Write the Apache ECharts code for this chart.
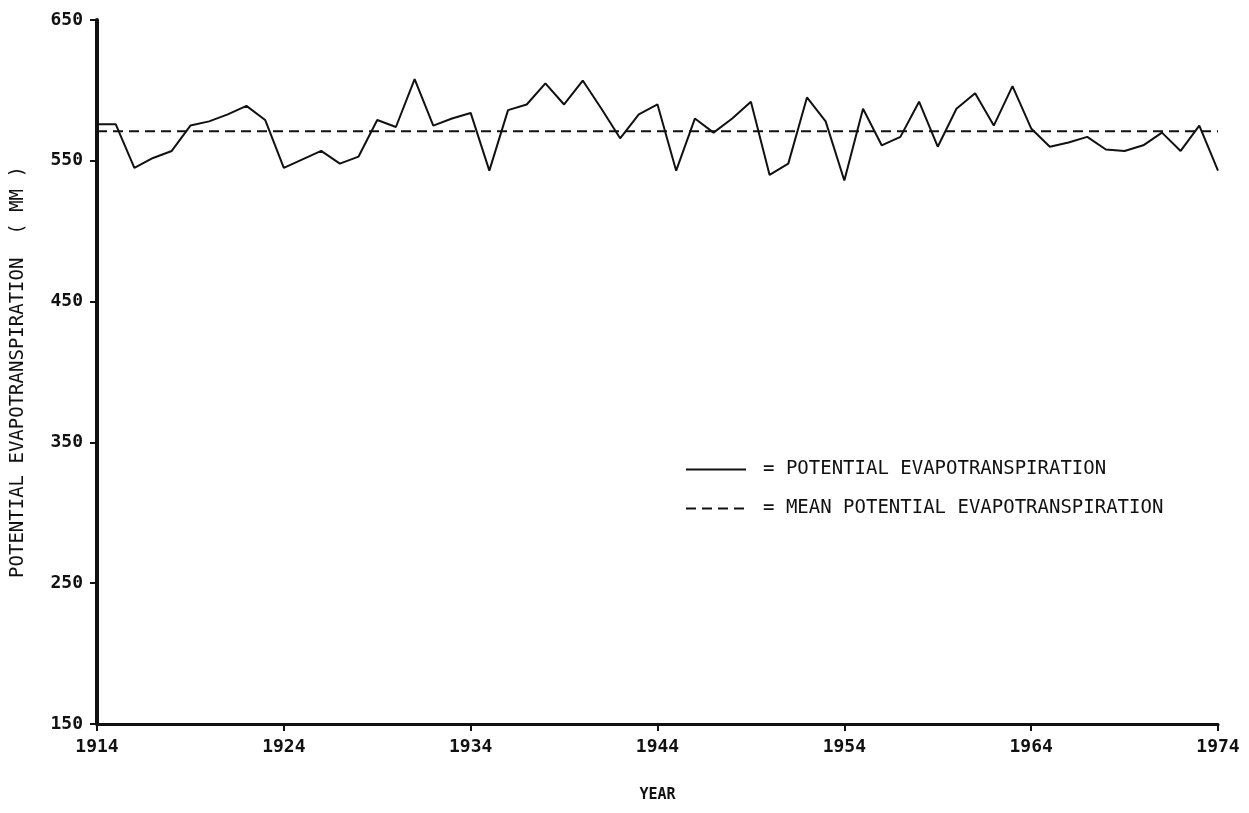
<!DOCTYPE html>
<html>
<head>
<meta charset="utf-8">
<script src="https://cdn.jsdelivr.net/npm/echarts@6/dist/echarts.min.js"></script>
<style>
html,body{margin:0;padding:0;background:#fff;}
#chart{width:1249px;height:813px;}
</style>
</head>
<body>
<div id="chart"></div>
<script>
const years = [];
for (let y = 1914; y <= 1974; y++) years.push(String(y));

const petValues = [
  576, 576, 545, 552, 557, 575, 578, 583, 589, 579,
  545, 551, 557, 548, 553, 579, 574, 608, 575, 580,
  584, 543, 586, 590, 605, 590, 607, 587, 566, 583,
  590, 543, 580, 570, 580, 592, 540, 548, 595, 578,
  536, 587, 561, 567, 592, 560, 587, 598, 575, 603,
  573, 560, 563, 567, 558, 557, 561, 570, 557, 575,
  543
];

const meanPET = 571;

const yTicks = [150, 250, 350, 450, 550, 650];

const FONT = '"DejaVu Sans Mono", monospace';

const chart = echarts.init(document.getElementById('chart'));
chart.setOption({
  backgroundColor: '#ffffff',
  animation: false,
  grid: { left: 97, right: 31, top: 20, bottom: 89, containLabel: false, outerBoundsMode: 'none' },
  legend: {
    orient: 'vertical',
    left: 680,
    top: 455,
    itemWidth: 60,
    itemHeight: 14,
    itemGap: 20,
    itemStyle: { opacity: 0, borderWidth: 0 },
    textStyle: { fontFamily: FONT, fontSize: 19, color: '#111', padding: [0, 0, 0, 12] },
    formatter: function (name) { return '= ' + name; },
    data: [
      { name: 'POTENTIAL EVAPOTRANSPIRATION' },
      { name: 'MEAN POTENTIAL EVAPOTRANSPIRATION' }
    ]
  },
  xAxis: {
    type: 'category',
    data: years,
    boundaryGap: false,
    name: 'YEAR',
    nameLocation: 'middle',
    nameGap: 64,
    nameTextStyle: { fontFamily: FONT, fontSize: 15, fontWeight: 'bold', color: '#111' },
    axisLine: { lineStyle: { color: '#111', width: 3 } },
    axisTick: { interval: 9, length: 7, lineStyle: { color: '#111', width: 2 } },
    axisLabel: { interval: 9, margin: 14, fontFamily: FONT, fontSize: 18, fontWeight: 'bold', color: '#111' },
    splitLine: { show: false }
  },
  yAxis: {
    type: 'value',
    min: yTicks[0],
    max: yTicks[yTicks.length - 1],
    interval: 100,
    name: 'POTENTIAL EVAPOTRANSPIRATION  ( MM )',
    nameLocation: 'middle',
    nameGap: 69,
    nameTextStyle: { fontFamily: FONT, fontSize: 19, color: '#111' },
    axisLine: { show: true, lineStyle: { color: '#111', width: 4 } },
    axisTick: { show: true, length: 7, lineStyle: { color: '#111', width: 2 } },
    axisLabel: { margin: 14, fontFamily: FONT, fontSize: 18, fontWeight: 'bold', color: '#111' },
    splitLine: { show: false }
  },
  series: [
    {
      name: 'POTENTIAL EVAPOTRANSPIRATION',
      type: 'line',
      data: petValues,
      symbol: 'none',
      lineStyle: { color: '#111', width: 2 },
      itemStyle: { color: '#111' }
    },
    {
      name: 'MEAN POTENTIAL EVAPOTRANSPIRATION',
      type: 'line',
      data: [[years[0], meanPET], [years[years.length - 1], meanPET]],
      symbol: 'none',
      lineStyle: { color: '#111', width: 2, type: [10, 6] },
      itemStyle: { color: '#111' }
    }
  ]
});
</script>
</body>
</html>
